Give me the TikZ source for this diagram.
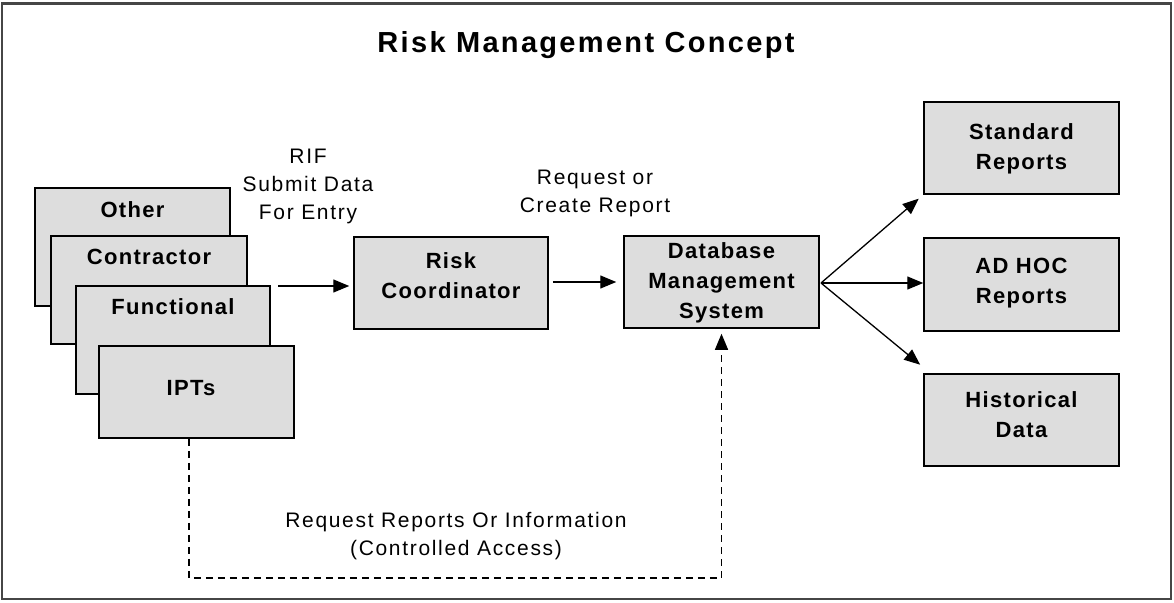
\documentclass[tikz,border=0pt]{standalone}
\usepackage{fontspec}
\setmainfont{Liberation Sans}
\newfontfamily\lblfont[LetterSpace=8]{Liberation Sans}
\newfontfamily\boxfont[LetterSpace=6]{Liberation Sans}
\newfontfamily\titlefont[LetterSpace=8]{Liberation Sans}
\usetikzlibrary{arrows.meta}
\definecolor{boxgray}{RGB}{221,221,221}
\definecolor{framegray}{RGB}{70,70,70}
\tikzset{
  box/.style={draw=black, line width=1.5pt, fill=boxgray, minimum width=195pt, inner sep=0pt},
  boxlbl/.style={font=\boxfont\bfseries\fontsize{22}{30}\selectfont, align=center, inner sep=0pt},
  lbl/.style={font=\lblfont\fontsize{21}{28}\selectfont, align=center, inner sep=0pt},
  arr/.style={line width=1.3pt, -{Triangle[length=16pt,width=13pt]}},
  dasharr/.style={line width=1.3pt, dash pattern=on 7pt off 5pt, -{Triangle[length=16pt,width=13pt]}}
}
\begin{document}
\begin{tikzpicture}[x=1pt,y=-1pt]
\useasboundingbox (0,0) rectangle (1174,602);
\draw[framegray, line width=2.5pt] (2,3.5) rectangle (1171,599);
\node[font=\titlefont\bfseries\fontsize{29}{30}\selectfont, inner sep=0pt] (title) at (586,45) {Risk Management Concept};

% stacked source boxes
\node[box, minimum width=195pt, minimum height=118pt] (other) at (132.5,247) {};
\node[boxlbl] (otherl) at (132.5,210) {Other};
\node[box, minimum width=196pt, minimum height=108pt] (contr) at (149,290) {};
\node[boxlbl] (contrl) at (149,257) {Contractor};
\node[box, minimum width=194pt, minimum height=108pt] (func) at (173,340) {};
\node[boxlbl] (funcl) at (173,307) {Functional};
\node[box, minimum height=92pt] (ipts) at (196.5,392) {};
\node[boxlbl] (iptsl) at (191,388) {IPTs};

% main boxes
\node[box, minimum width=194pt, minimum height=92pt] (rc) at (451,283) {};
\node[boxlbl] (rcl) at (451,276) {Risk\\Coordinator};
\node[box, minimum height=92pt] (db) at (721.5,282) {};
\node[boxlbl] (dbl) at (721.5,283) {Database\\Management\\System};
\node[box, minimum height=92pt] (std) at (1021.5,148) {};
\node[boxlbl] (stdl) at (1021.5,149) {Standard\\Reports};
\node[box, minimum height=93pt] (adhoc) at (1021.5,284.5) {};
\node[boxlbl] (adhocl) at (1021.5,283) {AD HOC\\Reports};
\node[box, minimum height=92pt] (hist) at (1021.5,420) {};
\node[boxlbl] (histl) at (1021.5,415) {Historical\\Data};

% labels
\node[lbl] (riflbl) at (308,186) {RIF\\Submit Data\\For Entry};
\node[lbl] (reqlbl) at (595,193) {Request or\\Create Report};
\node[lbl] (acclbl) at (456,536) {Request Reports Or Information\\(Controlled Access)};

% connectors
\coordinate (src) at (278,286);
\draw[arr, shorten >=4pt] (src) -- (src -| rc.west);
\draw[arr, shorten <=4pt, shorten >=7pt] (rc.east |- 0,282) -- (db.west |- 0,282);
\coordinate (dbout) at (821,283);
\draw[arr, shorten >=6pt] (dbout) -- (std.south west);
\draw[arr] (dbout) -- (adhoc.west |- dbout);
\draw[arr, shorten >=4pt] (dbout) -- ([yshift=6pt]hist.north west);
\coordinate (d1) at (189,578);
\draw[dasharr, shorten >=5pt] (ipts.south -| d1) -- (d1) -- (d1 -| db.south) -- (db.south);
\end{tikzpicture}
\end{document}
